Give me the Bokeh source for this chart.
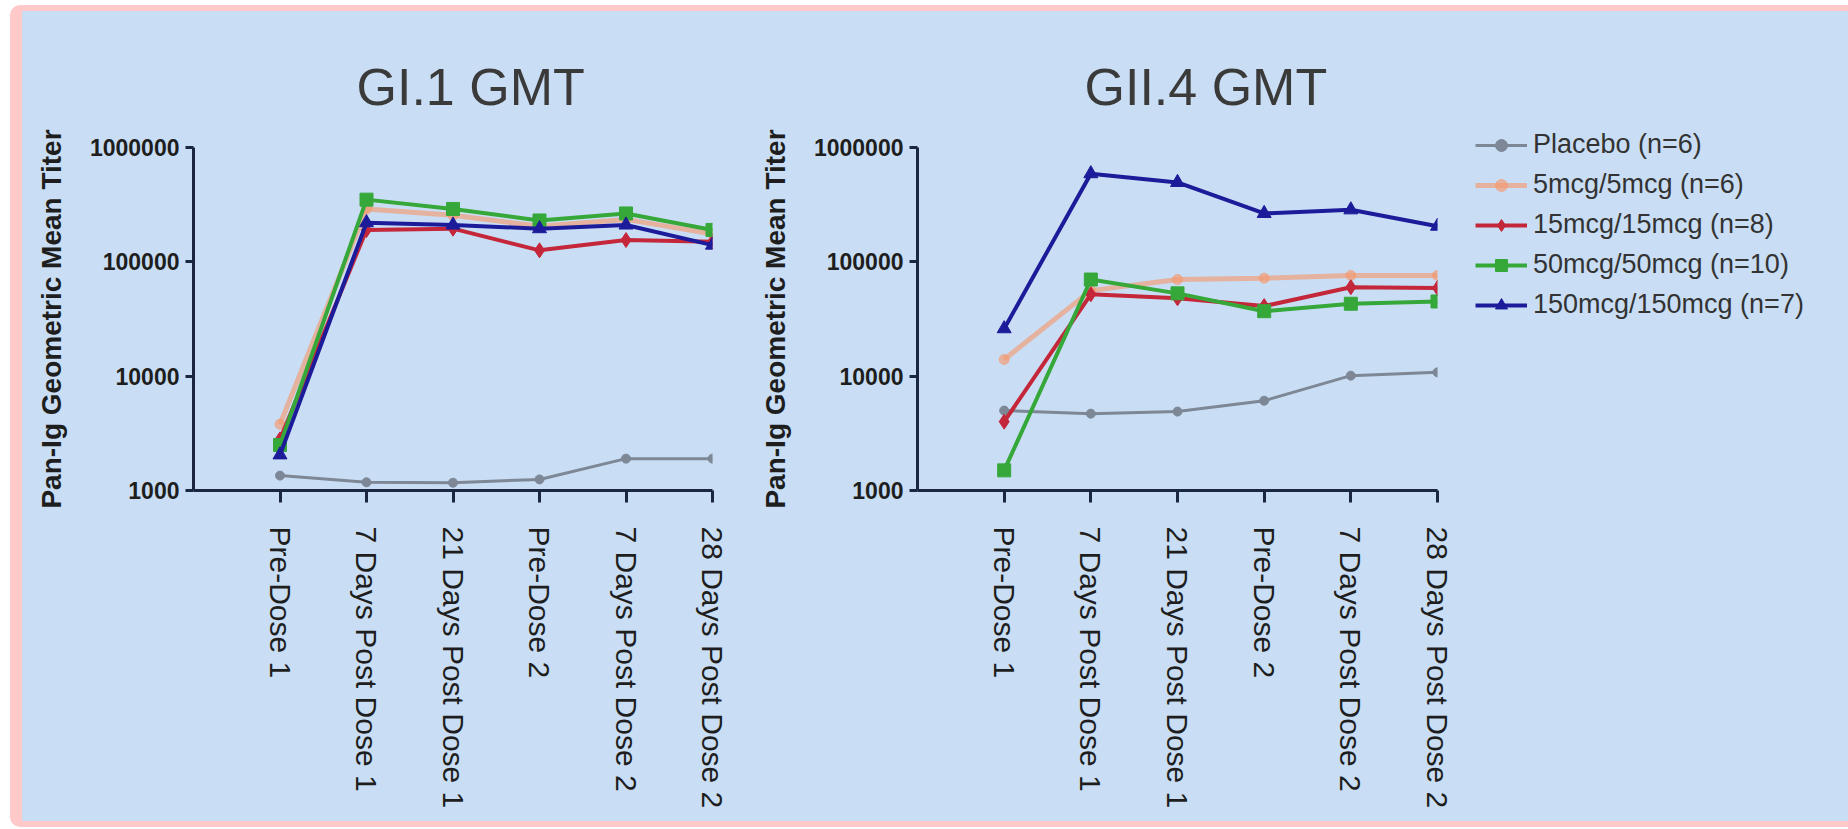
from bokeh.plotting import figure
from bokeh.models import (FixedTicker, NumeralTickFormatter, Legend, LegendItem,
                          Title, Range1d)
from bokeh.layouts import row
from bokeh.embed import file_html
from bokeh.resources import INLINE

# ---------------- data ----------------
categories = ["Pre-Dose 1", "7 Days Post Dose 1", "21 Days Post Dose 1",
              "Pre-Dose 2", "7 Days Post Dose 2", "28 Days Post Dose 2"]
y_ticks = [1000, 10000, 100000, 1000000]

series_names = ["Placebo (n=6)", "5mcg/5mcg (n=6)", "15mcg/15mcg (n=8)",
                "50mcg/50mcg (n=10)", "150mcg/150mcg (n=7)"]

# GI.1 GMT
gi1_placebo = [1350, 1180, 1170, 1250, 1900, 1900]
gi1_5mcg = [3800, 290000, 255000, 205000, 235000, 175000]
gi1_15mcg = [2800, 190000, 195000, 126000, 155000, 150000]
gi1_50mcg = [2500, 350000, 290000, 230000, 265000, 190000]
gi1_150mcg = [2050, 220000, 210000, 195000, 210000, 140000]

# GII.4 GMT
gii4_placebo = [5000, 4700, 4900, 6100, 10100, 10800]
gii4_5mcg = [14000, 56000, 70000, 72000, 76000, 76000]
gii4_15mcg = [4000, 52000, 48000, 41000, 60000, 59000]
gii4_50mcg = [1500, 70000, 53000, 37000, 43000, 45000]
gii4_150mcg = [26000, 590000, 495000, 265000, 285000, 205000]

# ---------------- styles ----------------
BG = "#c9def5"
PINK = "#ffc9c9"
AXIS = "#1b2640"
FONT = "Liberation Sans"

styles = [
    dict(color="#7d8796", width=3, alpha=1.0, marker="circle", size=9),
    dict(color="#f59a70", width=5, alpha=0.65, marker="circle", size=10),
    dict(color="#c4263a", width=4, alpha=1.0, marker="diamond", size=15),
    dict(color="#36a83a", width=4, alpha=1.0, marker="square", size=13),
    dict(color="#1c1c9a", width=4, alpha=1.0, marker="triangle", size=14),
]

x_idx = list(range(len(categories)))

H = 810
MBL = 171
MBT = 136
FH = 343
MBB = H - MBT - FH


def add_series(p, xs, data):
    rends = []
    for vals, st in zip(data, styles):
        l = p.line(xs, vals, line_color=st["color"], line_width=st["width"],
                   line_alpha=st["alpha"])
        s = p.scatter(xs, vals, marker=st["marker"], size=st["size"],
                      fill_color=st["color"], line_color=st["color"],
                      fill_alpha=st["alpha"], line_alpha=st["alpha"])
        rends.append([l, s])
    return rends


def make_fig(title, offset, data, fw, mbr):
    p = figure(frame_width=fw, frame_height=FH,
               x_range=Range1d(-1, len(categories) - 1),
               y_range=Range1d(y_ticks[0], y_ticks[-1]),
               y_axis_type="log", output_backend="svg", toolbar_location=None,
               min_border_left=MBL, min_border_right=mbr,
               min_border_top=MBT, min_border_bottom=MBB,
               background_fill_color=BG, border_fill_color=BG,
               outline_line_color=None)
    p.title = Title(text=title, align="left", offset=offset,
                    text_font_size="52px", text_font=FONT,
                    text_font_style="normal", text_color="#3a3a3a",
                    standoff=64)
    p.grid.visible = False

    xa = p.xaxis[0]
    xa.ticker = FixedTicker(ticks=x_idx)
    xa.major_label_overrides = {i: c for i, c in zip(x_idx, categories)}
    xa.major_label_orientation = "vertical"
    xa.major_label_text_font = FONT
    xa.major_label_text_font_size = "30px"
    xa.major_label_text_color = "#1e1e1e"
    xa.major_label_standoff = 24
    xa.axis_line_width = 3
    xa.axis_line_color = AXIS
    xa.major_tick_line_color = AXIS
    xa.major_tick_line_width = 3
    xa.major_tick_out = 12
    xa.major_tick_in = 0
    xa.minor_tick_line_color = None

    ya = p.yaxis[0]
    ya.ticker = FixedTicker(ticks=y_ticks)
    ya.formatter = NumeralTickFormatter(format="0")
    ya.major_label_text_font = FONT
    ya.major_label_text_font_size = "23px"
    ya.major_label_text_font_style = "bold"
    ya.major_label_text_color = "#1e1e1e"
    ya.major_label_standoff = 6
    ya.axis_line_width = 3
    ya.axis_line_color = AXIS
    ya.major_tick_line_color = AXIS
    ya.major_tick_line_width = 3
    ya.major_tick_out = 8
    ya.major_tick_in = 0
    ya.minor_tick_line_color = None
    ya.axis_label = "Pan-Ig Geometric Mean Titer"
    ya.axis_label_text_font = FONT
    ya.axis_label_text_font_size = "28px"
    ya.axis_label_text_font_style = "bold"
    ya.axis_label_text_color = "#1e1e1e"
    ya.axis_label_standoff = 20

    rends = add_series(p, x_idx, data)
    return p, rends


p1, _ = make_fig("GI.1 GMT", 163,
                 [gi1_placebo, gi1_5mcg, gi1_15mcg, gi1_50mcg, gi1_150mcg],
                 519, 34)
p2, rends2 = make_fig("GII.4 GMT", 167,
                      [gii4_placebo, gii4_5mcg, gii4_15mcg, gii4_50mcg, gii4_150mcg],
                      520, 0)

legend = Legend(items=[LegendItem(label=n, renderers=r) for n, r in zip(series_names, rends2)],
                location=(38, 170), orientation="vertical",
                label_text_font=FONT, label_text_font_size="27px",
                label_text_color="#333333", glyph_width=52, glyph_height=30,
                label_height=30, spacing=9, label_standoff=6, padding=0, margin=0,
                background_fill_alpha=0, border_line_color=None)
p2.add_layout(legend, "right")

layout = row(p1, p2, styles={"background-color": BG,
                             "border-style": "solid",
                             "border-color": PINK,
                             "border-width": "6px 12px",
                             "border-radius": "10px",
                             "margin-left": "10px",
                             "margin-top": "5px"})

open("out.html", "w").write(file_html(layout, INLINE))
